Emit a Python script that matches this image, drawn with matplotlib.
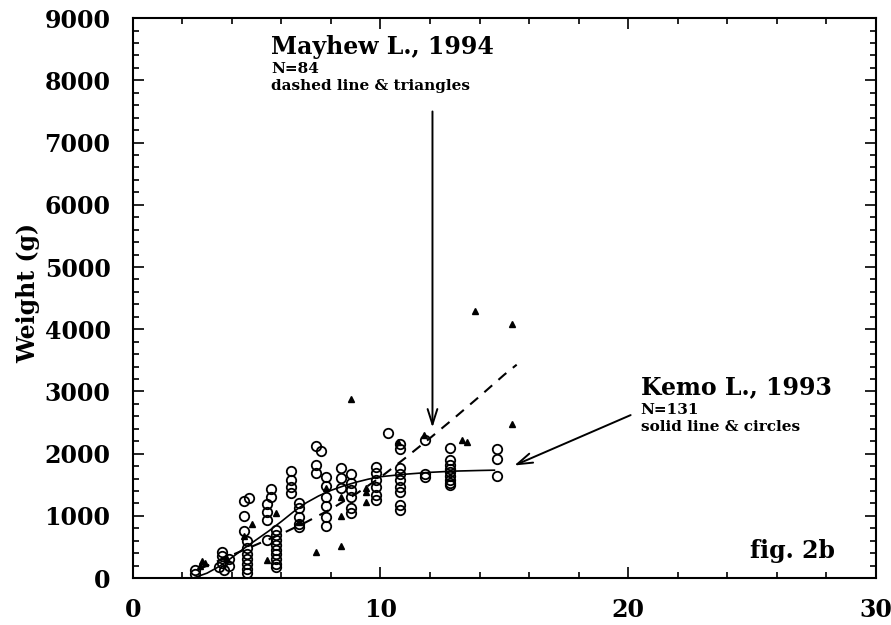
import matplotlib
matplotlib.use('Agg')
import matplotlib.pyplot as plt
from matplotlib.ticker import MultipleLocator

plt.rcParams['font.family'] = 'DejaVu Serif'
plt.rcParams['font.weight'] = 'bold'

# Kemo L., 1993 - circles (age, weight)
kemo_x = [2.5, 2.5,
          3.6, 3.6, 3.6, 3.5, 3.7, 3.9, 3.9,
          4.5, 4.7, 4.5, 4.5, 4.6, 4.6, 4.6, 4.6, 4.6, 4.6, 4.6,
          5.4, 5.4, 5.4, 5.6, 5.6, 5.4,
          5.8, 5.8, 5.8, 5.8, 5.8, 5.8, 5.8, 5.8, 5.8,
          6.4, 6.4, 6.4, 6.4, 6.7, 6.7, 6.7, 6.7, 6.7,
          7.4, 7.6, 7.4, 7.4,
          7.8, 7.8, 7.8, 7.8, 7.8, 7.8,
          8.4, 8.4, 8.4,
          8.8, 8.8, 8.8, 8.8, 8.8, 8.8,
          9.8, 9.8, 9.8, 9.8, 9.8, 9.8,
          10.3,
          10.8, 10.8, 10.8, 10.8, 10.8, 10.8, 10.8, 10.8, 10.8,
          11.8, 11.8, 11.8,
          12.8, 12.8, 12.8, 12.8, 12.8, 12.8, 12.8, 12.8, 12.8,
          14.7, 14.7, 14.7]
kemo_y = [60, 130,
          420, 350, 240, 180, 130, 300, 200,
          1240, 1290, 1000, 760, 600, 480, 380, 300, 220, 150, 90,
          1190, 1060, 930, 1300, 1430, 610,
          770, 700, 620, 540, 460, 380, 300, 230, 180,
          1720, 1580, 1460, 1370, 1200, 1120, 980, 870, 820,
          2120, 2040, 1820, 1690,
          1620, 1480, 1300, 1160, 980, 840,
          1770, 1610, 1450,
          1670, 1530, 1410, 1300, 1120, 1040,
          1780, 1690, 1570, 1460, 1330, 1250,
          2330,
          2150, 2070, 1770, 1680, 1570, 1460, 1380, 1170, 1090,
          2220, 1670, 1620,
          2090, 1900, 1820, 1760, 1700, 1640, 1580, 1530, 1490,
          2070, 1910, 1640]

# Mayhew L., 1994 - triangles
mayhew_x = [2.7, 2.8, 2.9, 3.8, 4.5, 4.8, 5.4, 5.8, 6.7, 7.4, 7.8, 8.4,
            8.4, 8.4, 8.8, 9.4, 9.4, 9.4, 10.7, 11.75, 13.3, 13.5, 13.8,
            15.3, 15.3]
mayhew_y = [200, 280, 240, 300, 680, 870, 290, 1040, 900, 420, 1450, 510,
            1000, 1300, 2880, 1220, 1380, 1450, 2190, 2300, 2220, 2190, 4290,
            4080, 2470]

# fitted curves
kemo_fit_x = [2.5, 3, 3.5, 4, 4.5, 5, 5.5, 6, 6.5, 7, 7.5, 8, 8.5, 9, 9.5,
              10, 11, 12, 13, 14, 14.6]
kemo_fit_y = [10, 80, 190, 330, 480, 620, 760, 910, 1070, 1210, 1320, 1410,
              1480, 1540, 1590, 1630, 1670, 1700, 1720, 1730, 1735]
mayhew_fit_x = [2.7, 3, 4, 5, 6, 7, 8, 9, 10, 11, 12, 13, 14, 15, 15.5]
mayhew_fit_y = [150, 200, 370, 540, 710, 900, 1110, 1350, 1620, 1930, 2250,
                2580, 2920, 3270, 3430]

fig = plt.figure(figsize=(8.91, 6.25), dpi=100)
ax = fig.add_axes([0.149, 0.075, 0.834, 0.896])

ax.plot(kemo_fit_x, kemo_fit_y, color='black', lw=1.2)
ax.plot(mayhew_fit_x, mayhew_fit_y, color='black', lw=1.5,
        dashes=(5, 4))
ax.plot(kemo_x, kemo_y, 'o', mfc='none', mec='black', ms=6.8, mew=1.3)
ax.plot(mayhew_x, mayhew_y, '^', color='black', ms=5)

ax.set_xlim(0, 30)
ax.set_ylim(0, 9000)
ax.xaxis.set_major_locator(MultipleLocator(10))
ax.xaxis.set_minor_locator(MultipleLocator(2))
ax.yaxis.set_major_locator(MultipleLocator(1000))
ax.yaxis.set_minor_locator(MultipleLocator(200))
ax.tick_params(which='both', direction='in', top=True, right=True,
               width=1.2, labelsize=17)
ax.tick_params(which='major', length=8)
ax.tick_params(which='minor', length=4)
ax.tick_params(axis='x', pad=14)
ax.tick_params(axis='y', pad=16)
for s in ax.spines.values():
    s.set_linewidth(1.5)

ax.set_ylabel('Weight (g)', fontsize=17, fontweight='bold')
ax.yaxis.set_label_coords(-0.124, 0.51)

# annotations
ax.text(5.6, 8420, 'Mayhew L., 1994', fontsize=17, fontweight='bold')
ax.text(5.6, 8120, 'N=84', fontsize=11, fontweight='bold')
ax.text(5.6, 7840, 'dashed line & triangles', fontsize=11,
        fontweight='bold')
ax.annotate('', xy=(12.1, 2420), xytext=(12.1, 7500),
            arrowprops=dict(arrowstyle='->,head_length=1.1,head_width=0.35',
                            color='black', lw=1.4, mutation_scale=10,
                            shrinkA=0, shrinkB=0))

ax.text(20.5, 2950, 'Kemo L., 1993', fontsize=17, fontweight='bold')
ax.text(20.5, 2640, 'N=131', fontsize=11, fontweight='bold')
ax.text(20.5, 2360, 'solid line & circles', fontsize=11, fontweight='bold')
ax.annotate('', xy=(15.4, 1810), xytext=(20.1, 2620),
            arrowprops=dict(arrowstyle='->,head_length=1.1,head_width=0.35',
                            color='black', lw=1.4, mutation_scale=10,
                            shrinkA=0, shrinkB=0))

ax.text(24.9, 330, 'fig. 2b', fontsize=17, fontweight='bold')

fig.savefig('out.png', dpi=100)
